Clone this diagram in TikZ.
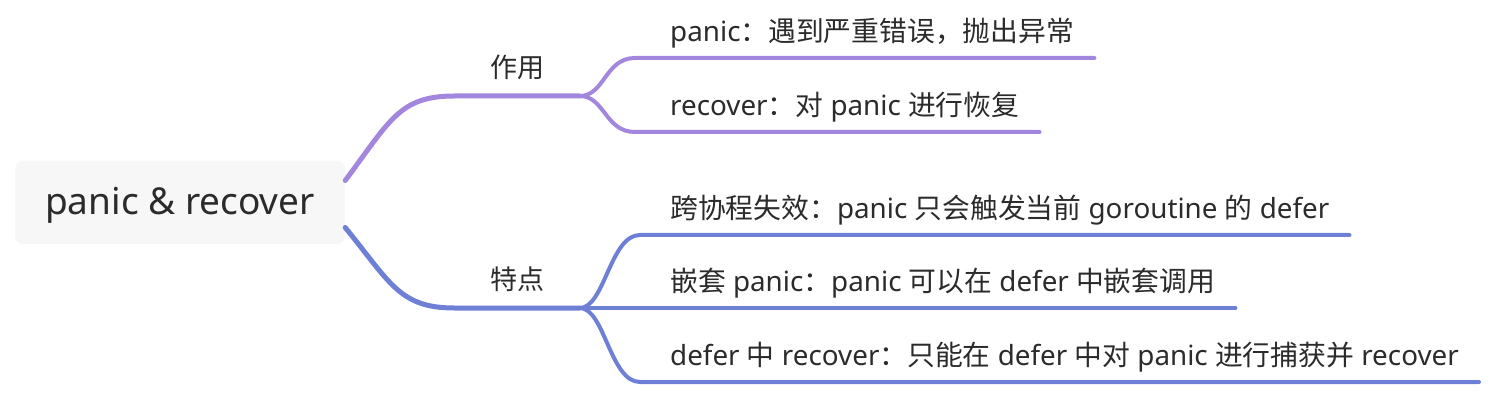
\documentclass[tikz,border=0pt]{standalone}
\usepackage{fontspec}
\setmainfont{Noto Sans}
\newfontfamily\cjk{Noto Sans CJK SC}
\usepackage{tikz}
\usetikzlibrary{positioning}
\definecolor{inktext}{HTML}{2B2B2B}
\definecolor{rootfill}{HTML}{F7F7F7}
\definecolor{usecol}{HTML}{A386DD}
\definecolor{featcol}{HTML}{6E7FD6}
\tikzset{
    %Define style for the centre box
    rootbox/.style={
           rectangle,
           rounded corners=8pt,
           fill=rootfill,
           minimum width=330pt,
           minimum height=83pt,
           text height=34pt,
           text depth=9pt,
           font=\fontsize{37}{42}\selectfont,
           text=inktext,
           text centered},
    %Define style for the two branch labels
    branch/.style={
           inner sep=0pt,
           minimum width=125pt,
           text height=24pt,
           text depth=18pt,
           font=\fontsize{27}{32}\selectfont\cjk,
           text=inktext},
    %Define style for the leaf texts
    leaf/.style={
           anchor=south west,
           inner sep=0pt,
           text height=24pt,
           text depth=16pt,
           font=\fontsize{27.8}{32}\selectfont,
           text=inktext},
    % Define line styles
    trunk/.style={line width=5pt, line cap=round},
    twig/.style={line width=4pt, line cap=round}
}

\begin{document}
\begin{tikzpicture}[x=1pt,y=-1pt]
\useasboundingbox (0,0) rectangle (1500,406);
 %nodes
\node[rootbox](root) at (180,202.5){panic \& recover};
\node[branch, anchor=south](use) at (517,96){作用};
\node[branch, anchor=south](feat) at (517,308){特点};
\node[leaf](p1) at (670,58){panic{\cjk ：遇到严重错误，抛出异常}};
\node[leaf](p2) at (670,132){recover{\cjk ：对} panic {\cjk 进行恢复}};
\node[leaf](q1) at (670,235){{\cjk 跨协程失效：}panic {\cjk 只会触发当前} goroutine {\cjk 的} defer};
\node[leaf](q2) at (670,308){{\cjk 嵌套} panic{\cjk ：}panic {\cjk 可以在} defer {\cjk 中嵌套调用}};
\node[leaf](q3) at (670,382){defer {\cjk 中} recover{\cjk ：只能在} defer {\cjk 中对} panic {\cjk 进行捕获并} recover};
 %branches
\draw[trunk, usecol] ([yshift=22pt]root.east) .. controls +(45,-60) and +(-55,0) .. (use.south west) -- (use.south east);
\draw[trunk, featcol] ([yshift=-25pt]root.east) .. controls +(45,55) and +(-55,0) .. (feat.south west) -- (feat.south east);
 %leaves
\foreach \n in {p1,p2}
  \draw[twig, usecol] (use.south east) .. controls +(25,0) and +(-30,0) .. ([xshift=-35pt]\n.south west) -- ([xshift=20pt]\n.south east);
\foreach \n in {q1,q2,q3}
  \draw[twig, featcol] (feat.south east) .. controls +(25,0) and +(-30,0) .. ([xshift=-30pt]\n.south west) -- ([xshift=20pt]\n.south east);
\end{tikzpicture}
\end{document}
